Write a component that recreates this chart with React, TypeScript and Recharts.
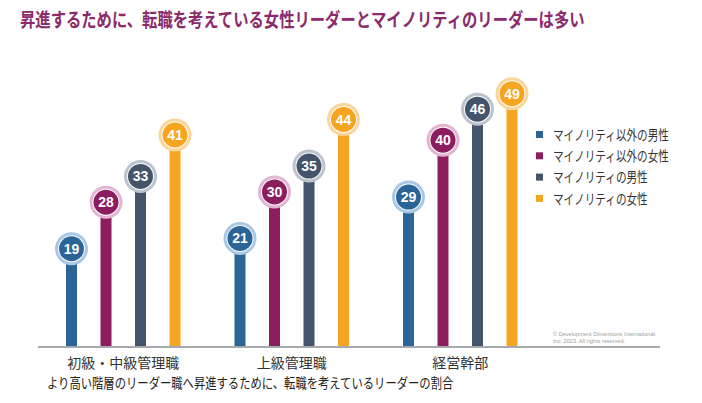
import React from 'react';
import { BarChart, Bar, XAxis, YAxis, Legend } from 'recharts';

const categories = ['初級・中級管理職', '上級管理職', '経営幹部'];
const nonMinorityMen = [19, 21, 29];
const nonMinorityWomen = [28, 30, 40];
const minorityMen = [33, 35, 46];
const minorityWomen = [41, 44, 49];
const seriesNames = ['マイノリティ以外の男性', 'マイノリティ以外の女性', 'マイノリティの男性', 'マイノリティの女性'];
const seriesKeys = ['a', 'b', 'c', 'd'];
const seriesColors = ['#2B6497', '#8C1D5F', '#44546A', '#F6A521'];
const seriesLight = ['#A9C7E6', '#E3B5D3', '#BCC3CC', '#FCD59A'];

const title = '昇進するために、転職を考えている女性リーダーとマイノリティのリーダーは多い';
const subtitle = 'より高い階層のリーダー職へ昇進するために、転職を考えているリーダーの割合';
const copyright1 = '© Development Dimensions International,';
const copyright2 = 'Inc. 2023. All rights reserved.';

const data = categories.map((c, i) => ({
  name: c,
  a: nonMinorityMen[i],
  b: nonMinorityWomen[i],
  c: minorityMen[i],
  d: minorityWomen[i],
}));

const FONT = '"Noto Sans CJK JP", "Noto Sans", sans-serif';

const CondensedText = (p: {
  x: number;
  y: number;
  text: string;
  size: number;
  width: number;
  fill: string;
  bold?: boolean;
}) => {
  const s = p.width / (p.text.length * p.size);
  return (
    <text
      transform={`translate(${p.x},${p.y}) scale(${s},1)`}
      x={0}
      y={0}
      fontFamily={FONT}
      fontSize={p.size}
      fontWeight={p.bold ? 'bold' : 'normal'}
      fill={p.fill}
    >
      {p.text}
    </text>
  );
};

const makeShape = (idx: number) => (props: any) => {
  const { x, y, width, height, payload } = props;
  const cx = x + width / 2;
  const v = payload[seriesKeys[idx]];
  return (
    <g>
      <rect x={x} y={y} width={width} height={height} fill={seriesColors[idx]} />
      <circle cx={cx} cy={y} r={16.5} fill={seriesLight[idx]} />
      <circle cx={cx} cy={y} r={13.5} fill="#ffffff" />
      <circle cx={cx} cy={y} r={12.5} fill={seriesColors[idx]} />
      <text
        x={cx}
        y={y + 5}
        textAnchor="middle"
        fill="#ffffff"
        fontFamily='"Liberation Sans", Arial, sans-serif'
        fontWeight="bold"
        fontSize={14}
      >
        {v}
      </text>
    </g>
  );
};

const CategoryTick = (props: any) => {
  const { x, y, payload } = props;
  return (
    <text x={x} y={y + 21} textAnchor="middle" fill="#333333" fontFamily={FONT} fontSize={14}>
      {payload.value}
    </text>
  );
};

const LegendContent = () => (
  <svg width={170} height={100} style={{ display: 'block' }}>
    {seriesNames.map((n, i) => {
      const cy = 9.5 + i * 21.3;
      return (
        <g key={n}>
          <rect x={6} y={cy - 3.5} width={7} height={7} fill={seriesColors[i]} />
          <CondensedText x={23} y={cy + 5.2} text={n} size={14} width={n.length * 10.6} fill="#333333" />
        </g>
      );
    })}
  </svg>
);

export default function App() {
  return (
    <div style={{ position: 'absolute', left: 0, top: 0, width: 702, height: 403, background: '#ffffff' }}>
      <BarChart
        width={702}
        height={403}
        data={data}
        margin={{ top: 88.5, right: 42, bottom: 26, left: 38 }}
        barSize={11}
        barGap={23.5}
      >
        <XAxis
          dataKey="name"
          height={30}
          padding={{ left: 1, right: 115.5 }}
          axisLine={{ stroke: '#A6AAAE', strokeWidth: 2 }}
          tickLine={false}
          tickSize={0}
          tickMargin={0}
          tick={<CategoryTick />}
          interval={0}
        />
        <YAxis hide domain={[0, 50]} />
        <Legend
          layout="vertical"
          align="center"
          verticalAlign="middle"
          content={<LegendContent />}
          wrapperStyle={{ left: 530, top: 125, width: 170, height: 100 }}
        />
        {seriesKeys.map((k, i) => (
          <Bar
            key={k}
            dataKey={k}
            name={seriesNames[i]}
            fill={seriesColors[i]}
            isAnimationActive={false}
            shape={makeShape(i)}
          />
        ))}
      </BarChart>
      <svg
        width={702}
        height={403}
        style={{ position: 'absolute', left: 0, top: 0, pointerEvents: 'none' }}
      >
        <CondensedText x={20} y={27} text={title} size={19} width={567} fill="#8B2B6B" bold />
        <CondensedText x={47} y={388} text={subtitle} size={14} width={408} fill="#222222" />
        <text x={553} y={336} fontFamily='"Liberation Sans", Arial, sans-serif' fontSize={5.6} fill="#A0A0A0">
          {copyright1}
        </text>
        <text x={553} y={343} fontFamily='"Liberation Sans", Arial, sans-serif' fontSize={5.6} fill="#A0A0A0">
          {copyright2}
        </text>
      </svg>
    </div>
  );
}
